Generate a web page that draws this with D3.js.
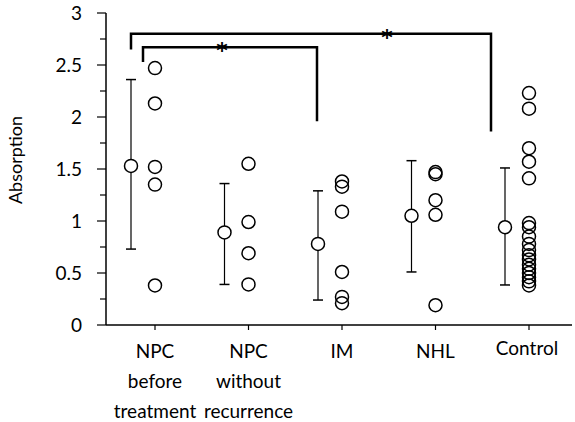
<!DOCTYPE html>
<html lang="en">
<head>
<meta charset="UTF-8">
<script src="https://cdnjs.cloudflare.com/ajax/libs/d3/7.8.5/d3.min.js"></script>
<style>
    body { margin: 0; background: #fff; }
    text { font-family: Lato, "Open Sans", "DejaVu Sans", sans-serif; fill: #000; }
    text.star { font-family: "DejaVu Sans", sans-serif; }
</style>
</head>
<body>
<div id="chart"></div>
<script>
    // groups, as printed under the x axis (one array entry per line)
    var groups = ["NPC before treatment", "NPC without recurrence", "IM", "NHL", "Control"];
    var groupLines = [["NPC", "before", "treatment"], ["NPC", "without", "recurrence"], ["IM"], ["NHL"], ["Control"]];

    // individual absorption values per group
    var npcBefore = [2.47, 2.13, 1.52, 1.35, 0.38];
    var npcWithout = [1.55, 0.99, 0.69, 0.39];
    var im = [1.38, 1.33, 1.09, 0.51, 0.27, 0.21];
    var nhl = [1.47, 1.45, 1.20, 1.06, 0.19];
    var control = [2.23, 2.08, 1.70, 1.57, 1.41, 0.98, 0.94, 0.85, 0.78, 0.72, 0.67, 0.63,
                   0.58, 0.54, 0.50, 0.46, 0.42, 0.38];

    // group mean and error bar ends
    var means = [1.53, 0.89, 0.78, 1.05, 0.94];
    var errLow = [0.73, 0.39, 0.24, 0.51, 0.385];
    var errHigh = [2.36, 1.36, 1.29, 1.58, 1.51];

    // significance brackets: from group, to group, top level, left end, right end
    var brackets = [
        ["NPC before treatment", "Control", 2.80, 2.65, 1.86],
        ["NPC before treatment", "IM", 2.67, 2.53, 1.96]
    ];

    var yTicks = [0, 0.5, 1, 1.5, 2, 2.5, 3];
    var yMinor = [0.25, 0.75, 1.25, 1.75, 2.25, 2.75];

    var values = [npcBefore, npcWithout, im, nhl, control];

    var width = 575, height = 422;
    var svg = d3.select("#chart").append("svg")
        .attr("width", width)
        .attr("height", height);

    var x = d3.scalePoint().domain(groups).range([155, 529]);
    var y = d3.scaleLinear().domain([0, 3]).range([325, 13]);
    var meanOffset = -24;

    // y axis
    var yAxis = svg.append("g").attr("transform", "translate(106,0)");
    yAxis.append("line").attr("y1", y(3)).attr("y2", y(0)).attr("stroke", "#000").attr("stroke-width", 1.5);
    yAxis.selectAll(".major").data(yTicks).enter().append("line")
        .attr("x1", -9).attr("x2", 0)
        .attr("y1", function (d) { return y(d); })
        .attr("y2", function (d) { return y(d); })
        .attr("stroke", "#000").attr("stroke-width", 1.2);
    yAxis.selectAll(".minor").data(yMinor).enter().append("line")
        .attr("x1", -6).attr("x2", 0)
        .attr("y1", function (d) { return y(d); })
        .attr("y2", function (d) { return y(d); })
        .attr("stroke", "#000").attr("stroke-width", 1.2);
    yAxis.selectAll("text").data(yTicks).enter().append("text")
        .attr("x", -24)
        .attr("y", function (d) { return y(d); })
        .attr("dy", "0.36em")
        .attr("text-anchor", "end")
        .style("font-size", "19px")
        .text(function (d) { return d; });

    svg.append("text")
        .attr("transform", "translate(22,160) rotate(-90)")
        .attr("text-anchor", "middle")
        .style("font-size", "18px")
        .text("Absorption");

    // x axis
    svg.append("line")
        .attr("x1", 106).attr("x2", 572)
        .attr("y1", y(0)).attr("y2", y(0))
        .attr("stroke", "#000").attr("stroke-width", 1.5);
    svg.selectAll(".xtick").data(groups).enter().append("line")
        .attr("x1", function (d) { return x(d); })
        .attr("x2", function (d) { return x(d); })
        .attr("y1", y(0)).attr("y2", y(0) + 5)
        .attr("stroke", "#000").attr("stroke-width", 1.2);

    var labels = svg.selectAll(".xlab").data(groups).enter().append("text")
        .attr("text-anchor", "middle")
        .style("font-size", "19px");
    labels.each(function (d, i) {
        var t = d3.select(this);
        groupLines[i].forEach(function (line, j) {
            t.append("tspan")
                .attr("x", x(d) + (i === 4 ? -2 : 0))
                .attr("y", (i === 4 ? 355 : 358) + j * 30)
                .text(line);
        });
    });

    // error bars and means
    groups.forEach(function (g, i) {
        var cx = x(g) + meanOffset;
        svg.append("line")
            .attr("x1", cx).attr("x2", cx)
            .attr("y1", y(errLow[i])).attr("y2", y(errHigh[i]))
            .attr("stroke", "#000").attr("stroke-width", 1.2);
        [errLow[i], errHigh[i]].forEach(function (v) {
            svg.append("line")
                .attr("x1", cx - 5).attr("x2", cx + 5)
                .attr("y1", y(v)).attr("y2", y(v))
                .attr("stroke", "#000").attr("stroke-width", 1.5);
        });
        svg.append("circle")
            .attr("cx", cx).attr("cy", y(means[i])).attr("r", 6.5)
            .attr("fill", "#fff").attr("stroke", "#000").attr("stroke-width", 1.5);

        svg.selectAll(".pt" + i).data(values[i]).enter().append("circle")
            .attr("cx", x(g))
            .attr("cy", function (d) { return y(d); })
            .attr("r", 6.5)
            .attr("fill", "none")
            .attr("stroke", "#000")
            .attr("stroke-width", 1.5);
    });

    // significance brackets
    var ends = [[0, -14], [12, -1]];
    brackets.forEach(function (b, i) {
        var x1 = x(b[0]) + meanOffset + ends[i][0];
        var x2 = x(b[1]) + meanOffset + ends[i][1];
        svg.append("path")
            .attr("d", "M" + x1 + "," + y(b[3]) + "V" + y(b[2]) + "H" + x2 + "V" + y(b[4]))
            .attr("fill", "none")
            .attr("stroke", "#000")
            .attr("stroke-width", 2.5);
        svg.append("text")
            .attr("class", "star")
            .attr("x", (x1 + x2) / 2 + (i === 0 ? 76 : -8))
            .attr("y", y(b[2]) + 11)
            .attr("text-anchor", "middle")
            .style("font-size", "22px")
            .style("font-weight", "bold")
            .text("*");
    });
</script>
</body>
</html>
